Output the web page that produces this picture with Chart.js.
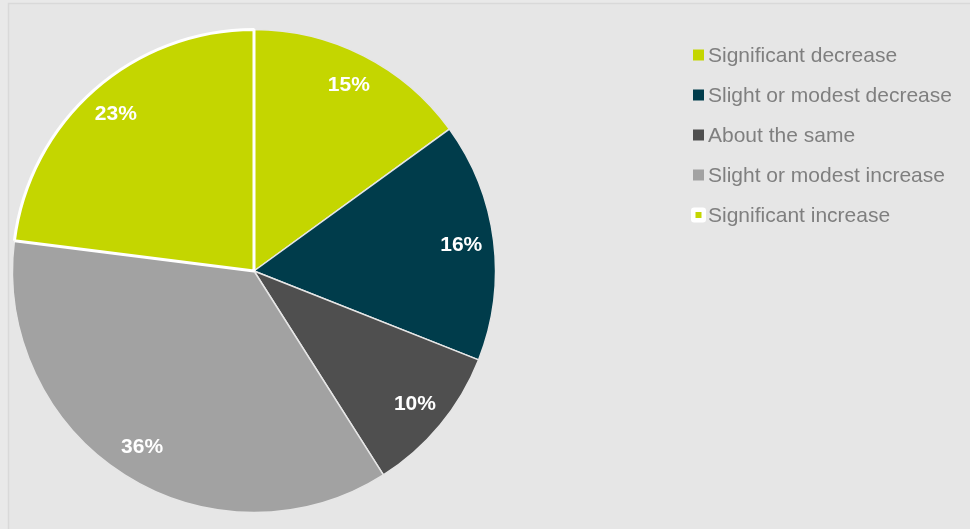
<!DOCTYPE html>
<html>
<head>
<meta charset="utf-8">
<title>Pie</title>
<script src="https://cdn.jsdelivr.net/npm/chart.js@4/dist/chart.umd.min.js"></script>
<style>
  html, body { margin: 0; padding: 0; background: #e9e9e9; }
  canvas { display: block; }
</style>
</head>
<body>
<canvas id="pie" width="970" height="529"></canvas>
<script>
const categories = [
    'Significant decrease',
    'Slight or modest decrease',
    'About the same',
    'Slight or modest increase',
    'Significant increase'
];
const shares = [15, 16, 10, 36, 23];

const sliceColors = ['#c4d600', '#003c4b', '#4f4f4f', '#a2a2a2', '#c4d600'];
const sliceBorders = ['#e6e6e6', '#e6e6e6', '#e6e6e6', '#e6e6e6', '#ffffff'];
const sliceBorderWidths = [1.5, 1.5, 1.5, 1.5, 3];

// panel background with a thin frame on the top and left
const panel = {
    id: 'panel',
    beforeDraw(chart) {
        const ctx = chart.ctx;
        ctx.save();
        ctx.fillStyle = '#e9e9e9';
        ctx.fillRect(0, 0, chart.width, chart.height);
        ctx.fillStyle = '#e6e6e6';
        ctx.fillRect(8, 3, chart.width - 8, chart.height - 3);
        ctx.strokeStyle = '#d9d9d9';
        ctx.lineWidth = 1.5;
        ctx.beginPath();
        ctx.moveTo(8.5, chart.height);
        ctx.lineTo(8.5, 3.5);
        ctx.lineTo(chart.width, 3.5);
        ctx.stroke();
        ctx.restore();
    }
};

// percentage text inside each slice
const sliceLabels = {
    id: 'sliceLabels',
    afterDatasetsDraw(chart) {
        const ctx = chart.ctx;
        const arcs = chart.getDatasetMeta(0).data;
        ctx.save();
        ctx.font = 'bold 21px "Liberation Sans", Arial, sans-serif';
        ctx.fillStyle = '#ffffff';
        ctx.textAlign = 'center';
        ctx.textBaseline = 'middle';
        arcs.forEach((arc, i) => {
            const p = arc.getProps(['x', 'y', 'startAngle', 'endAngle', 'outerRadius']);
            const mid = (p.startAngle + p.endAngle) / 2;
            const r = p.outerRadius * 0.865;
            ctx.fillText(shares[i] + '%', p.x + Math.cos(mid) * r, p.y + Math.sin(mid) * r);
        });
        ctx.restore();
    }
};

// legend on the right, one row per category
const sideLegend = {
    id: 'sideLegend',
    afterDraw(chart) {
        const ctx = chart.ctx;
        const x = 693, y0 = 55, step = 40, box = 11;
        ctx.save();
        ctx.font = '21px "Liberation Sans", Arial, sans-serif';
        ctx.textBaseline = 'middle';
        categories.forEach((name, i) => {
            const y = y0 + i * step;
            if (sliceBorders[i] === '#ffffff') {
                ctx.fillStyle = '#ffffff';
                ctx.beginPath();
                ctx.roundRect(x - 2, y - box / 2 - 2, box + 4, box + 4, 3);
                ctx.fill();
                ctx.fillStyle = sliceColors[i];
                ctx.fillRect(x + 2.5, y - 3, 6, 6);
            } else {
                ctx.fillStyle = sliceColors[i];
                ctx.fillRect(x, y - box / 2, box, box);
            }
            ctx.fillStyle = '#7f7f7f';
            ctx.fillText(name, x + 15, y + 1);
        });
        ctx.restore();
    }
};

new Chart(document.getElementById('pie'), {
    type: 'pie',
    data: {
        labels: categories,
        datasets: [{
            data: shares,
            backgroundColor: sliceColors,
            borderColor: sliceBorders,
            borderWidth: sliceBorderWidths
        }]
    },
    options: {
        responsive: false,
        animation: false,
        layout: {
            padding: { left: 11, top: 28, right: 473, bottom: 15 }
        },
        plugins: {
            legend: { display: false },
            tooltip: { enabled: false }
        }
    },
    plugins: [panel, sliceLabels, sideLegend]
});
</script>
</body>
</html>
